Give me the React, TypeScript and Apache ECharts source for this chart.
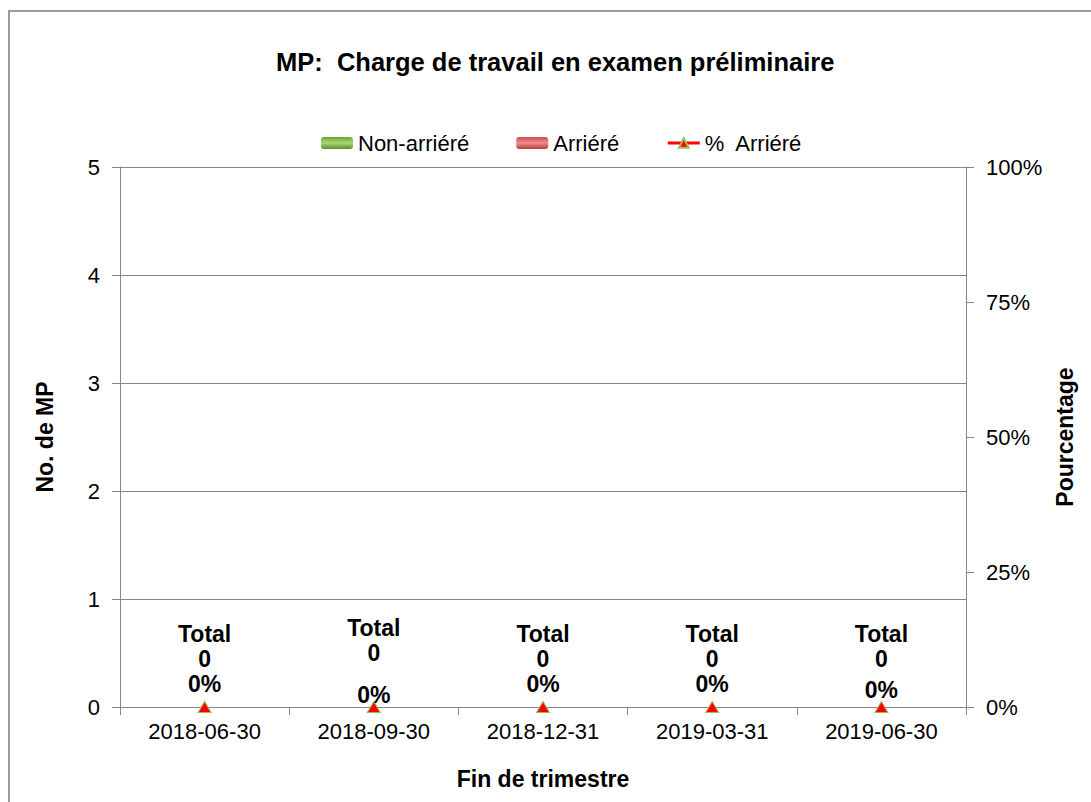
import React, { useEffect, useRef } from "react";
import * as echarts from "echarts";

const categories = ["2018-06-30", "2018-09-30", "2018-12-31", "2019-03-31", "2019-06-30"];
const nonArriere = [0, 0, 0, 0, 0];
const arriere = [0, 0, 0, 0, 0];
const totals = [0, 0, 0, 0, 0];
const pctArriere = [0, 0, 0, 0, 0];
const leftTicks = { min: 0, max: 5, interval: 1 };
const rightTicks = { min: 0, max: 100, interval: 25 };

// label layout (vertical pixel offsets of the data labels)
const totalLabelOffsets = [-61, -67, -61, -61, -61];
const pctLabelOffsets = [-23, -12, -23, -23, -17];

const FONT = "'Liberation Sans', Arial, sans-serif";
const GRAY = "#868686";

export default function App() {
  const ref = useRef<HTMLDivElement>(null);
  useEffect(() => {
    if (!ref.current) return;
    const chart = echarts.init(ref.current, null, { renderer: "svg" });
    const option: any = {
      animation: false,
      backgroundColor: "#ffffff",
      textStyle: { fontFamily: FONT },
      title: {
        text: "MP:  Charge de travail en examen préliminaire",
        left: 276,
        top: 49,
        padding: 0,
        textStyle: { fontFamily: FONT, fontSize: 25.5, fontWeight: "bold", color: "#000" },
      },
      legend: {
        left: 316,
        top: 127,
        itemWidth: 32,
        itemHeight: 12,
        itemGap: 47,
        textStyle: { fontFamily: FONT, fontSize: 22, color: "#000" },
        data: [
          { name: "Non-arriéré" },
          { name: "Arriéré" },
          { name: "%  Arriéré", lineStyle: { opacity: 1, color: "#ff0000", width: 3 } },
        ],
      },
      graphic: [
        {
          type: "rect",
          shape: { x: 9, y: 11, width: 1100, height: 820 },
          style: { fill: "none", stroke: "#9a9a9a", lineWidth: 2 },
          silent: true,
        },
      ],
      grid: { left: 120, right: 125, top: 167, bottom: 95 },
      xAxis: {
        type: "category",
        data: categories,
        name: "Fin de trimestre",
        nameLocation: "middle",
        nameGap: 60,
        nameTextStyle: { fontFamily: FONT, fontSize: 23, fontWeight: "bold", color: "#000" },
        axisLine: { lineStyle: { color: GRAY, width: 1 } },
        axisTick: { show: true, length: 8, lineStyle: { color: GRAY } },
        axisLabel: { fontFamily: FONT, fontSize: 22, color: "#000", margin: 13 },
      },
      yAxis: [
        {
          type: "value",
          min: leftTicks.min,
          max: leftTicks.max,
          interval: leftTicks.interval,
          name: "No. de MP",
          nameLocation: "middle",
          nameRotate: 90,
          nameGap: 64,
          nameTextStyle: { fontFamily: FONT, fontSize: 23, fontWeight: "bold", color: "#000" },
          axisLine: { show: true, lineStyle: { color: GRAY } },
          axisTick: { show: true, length: 8, lineStyle: { color: GRAY } },
          axisLabel: { fontFamily: FONT, fontSize: 22, color: "#000", margin: 20 },
          splitLine: { show: true, lineStyle: { color: GRAY, width: 1 } },
        },
        {
          type: "value",
          min: rightTicks.min,
          max: rightTicks.max,
          interval: rightTicks.interval,
          position: "right",
          name: "Pourcentage",
          nameLocation: "middle",
          nameRotate: 90,
          nameGap: 82,
          nameTextStyle: { fontFamily: FONT, fontSize: 23, fontWeight: "bold", color: "#000" },
          axisLine: { show: true, lineStyle: { color: GRAY } },
          axisTick: { show: true, length: 8, lineStyle: { color: GRAY } },
          axisLabel: { fontFamily: FONT, fontSize: 22, color: "#000", margin: 20, formatter: "{value}%" },
          splitLine: { show: false },
        },
      ],
      series: [
        {
          name: "Non-arriéré",
          type: "bar",
          stack: "mp",
          barWidth: "50%",
          data: nonArriere,
          itemStyle: {
            color: new echarts.graphic.LinearGradient(0, 0, 0, 1, [
              { offset: 0, color: "#6f9e3e" },
              { offset: 0.5, color: "#a8da6c" },
              { offset: 1, color: "#5f8c32" },
            ]),
          },
        },
        {
          name: "Arriéré",
          type: "bar",
          stack: "mp",
          barWidth: "50%",
          data: arriere,
          itemStyle: {
            color: new echarts.graphic.LinearGradient(0, 0, 0, 1, [
              { offset: 0, color: "#c0504d" },
              { offset: 0.5, color: "#f48a8a" },
              { offset: 1, color: "#b04040" },
            ]),
          },
        },
        {
          name: "Total",
          type: "line",
          yAxisIndex: 0,
          symbol: "circle",
          symbolSize: 1,
          itemStyle: { color: "transparent" },
          lineStyle: { opacity: 0, width: 0 },
          z: 5,
          data: totals.map((v, i) => ({ value: v, label: { offset: [0, totalLabelOffsets[i]] } })),
          label: {
            show: true,
            position: "inside",
            formatter: (p: any) => "Total\n" + p.value,
            fontFamily: FONT,
            fontSize: 23,
            fontWeight: "bold",
            lineHeight: 25,
            color: "#000",
          },
        },
        {
          name: "%  Arriéré",
          type: "line",
          yAxisIndex: 1,
          symbol: "triangle",
          symbolSize: [13, 11],
          z: 6,
          itemStyle: { color: "#ff0000", borderColor: "#9bbb59", borderWidth: 1 },
          lineStyle: { color: "#ff0000", width: 3, opacity: 0 },
          data: pctArriere.map((v, i) => ({ value: v, label: { offset: [0, pctLabelOffsets[i]] } })),
          label: {
            show: true,
            position: "inside",
            formatter: (p: any) => p.value + "%",
            fontFamily: FONT,
            fontSize: 23,
            fontWeight: "bold",
            lineHeight: 25,
            color: "#000",
          },
        },
      ],
    };
    chart.setOption(option);
    return () => chart.dispose();
  }, []);
  return (
    <div
      ref={ref}
      style={{ position: "absolute", left: 0, top: 0, width: 1091, height: 802 }}
    />
  );
}
